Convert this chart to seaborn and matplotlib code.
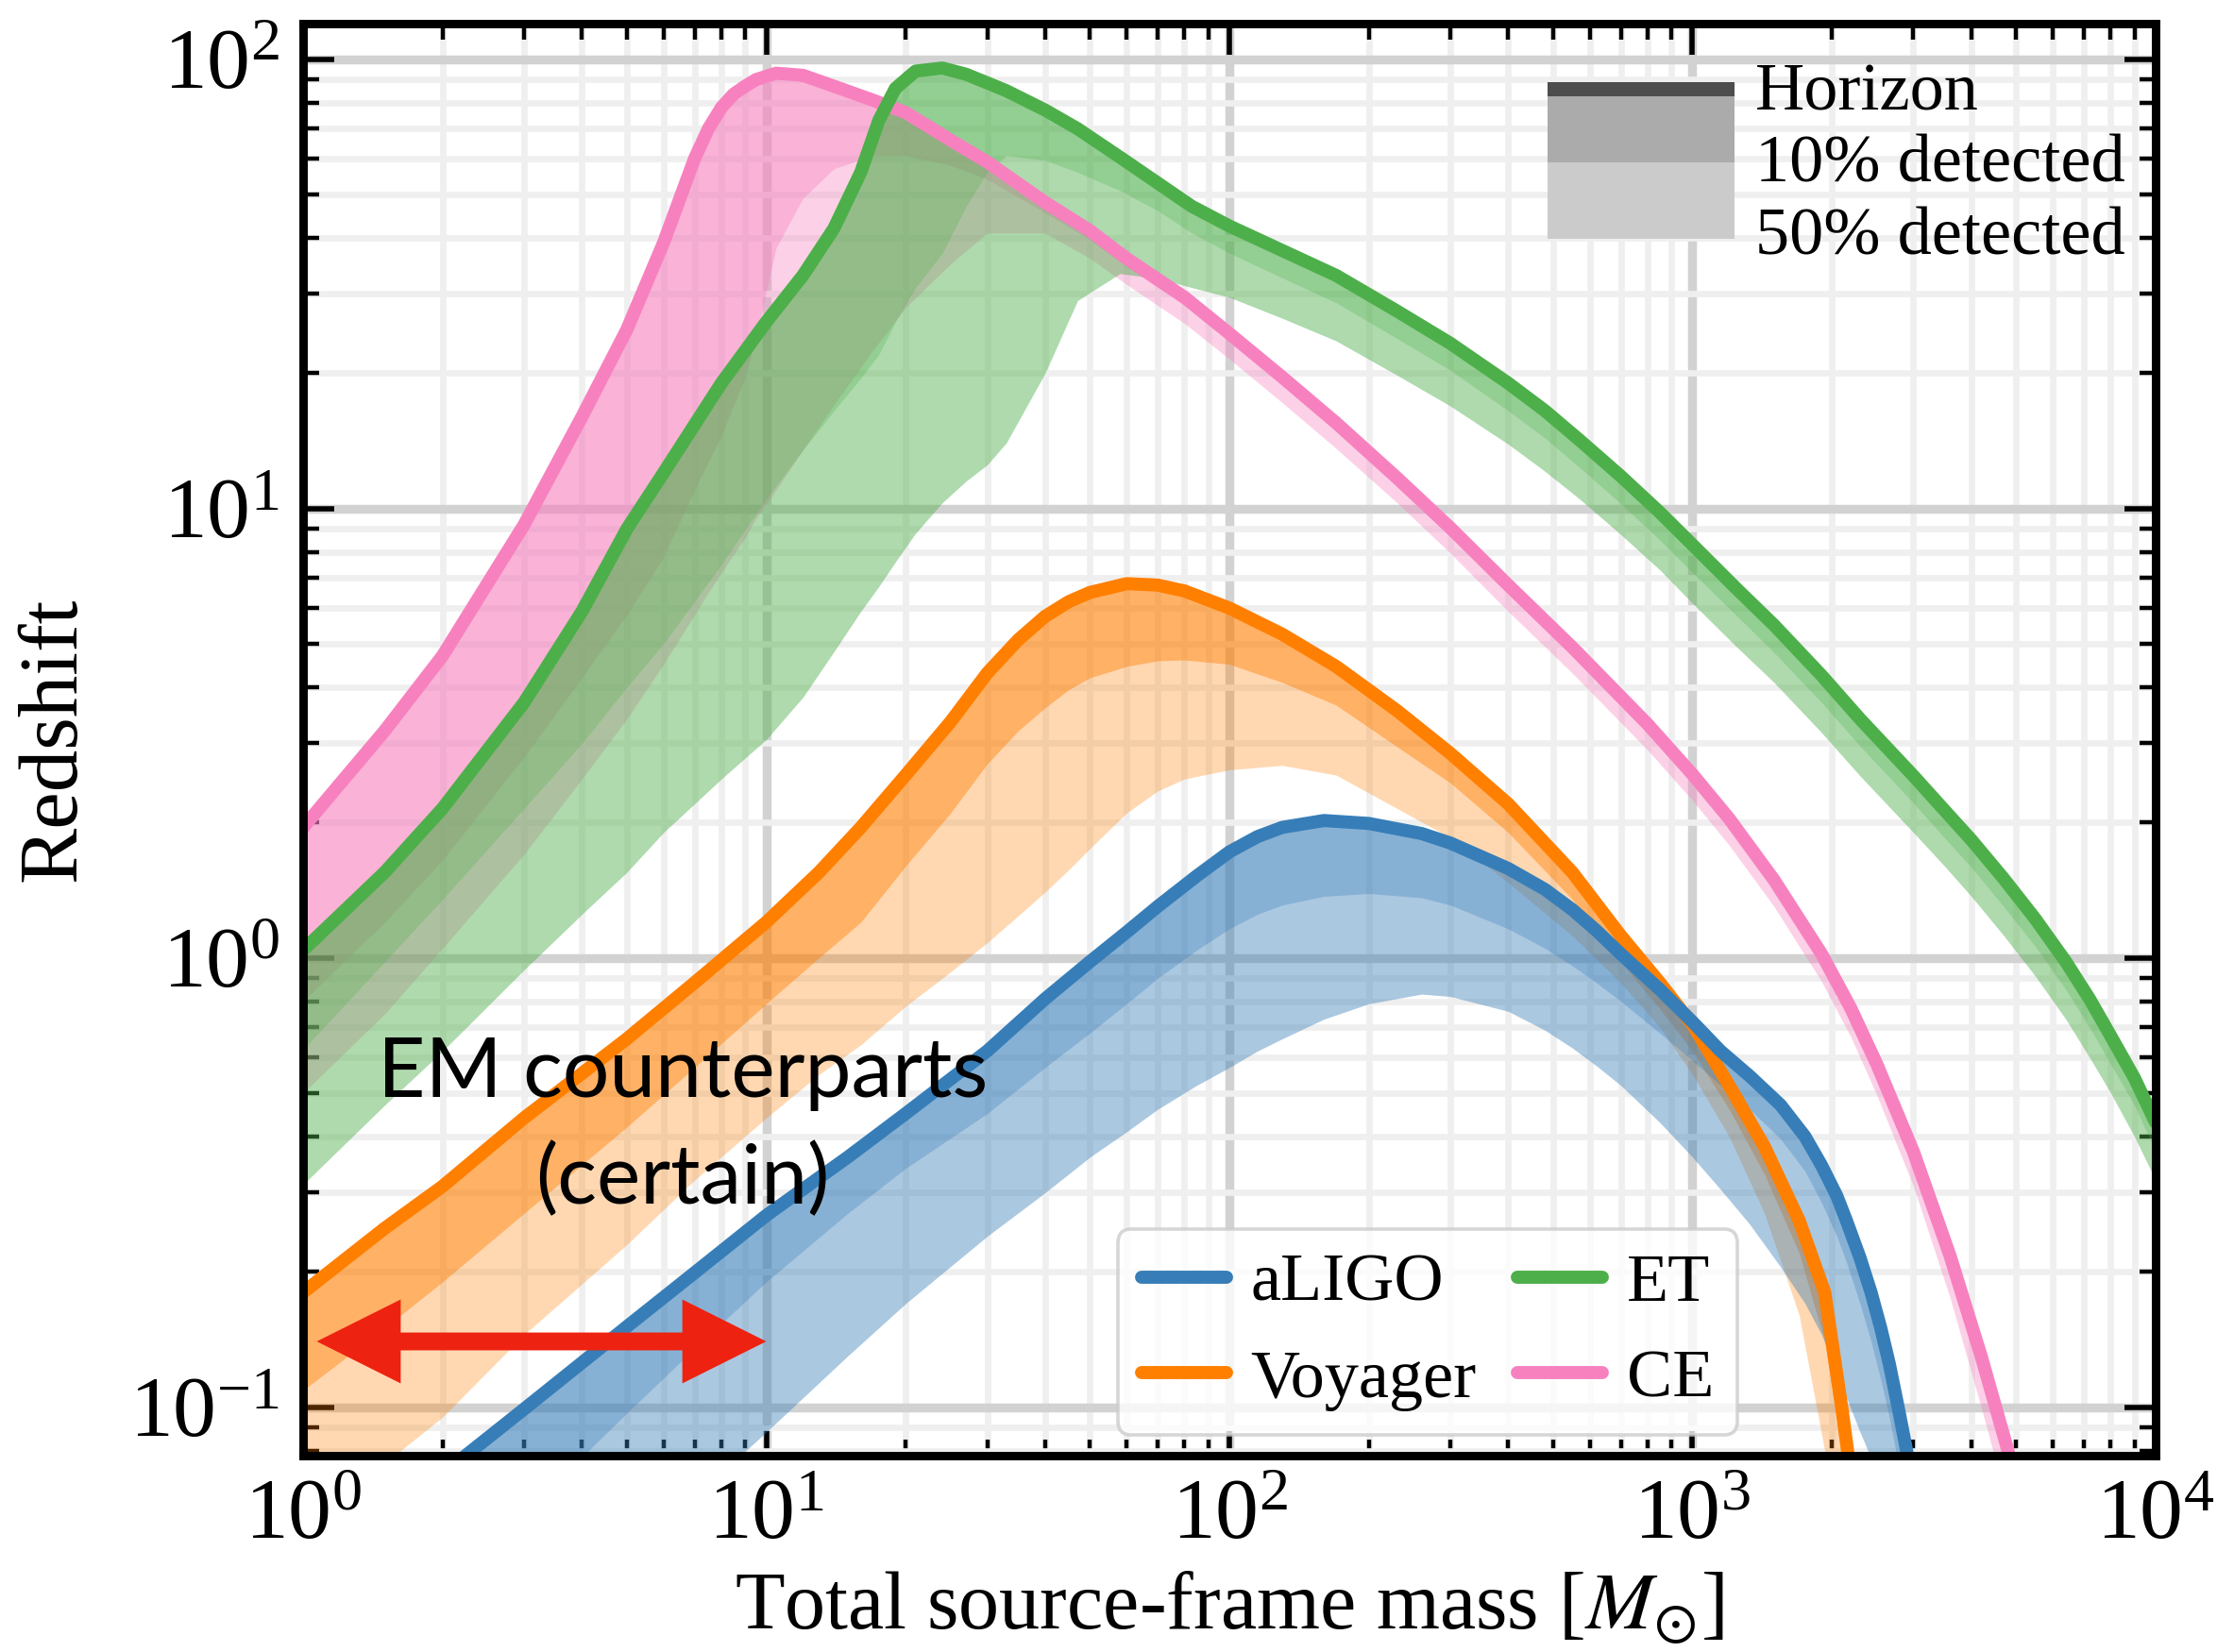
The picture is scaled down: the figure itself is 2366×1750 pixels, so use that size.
import pandas as pd
import seaborn as sns
import matplotlib.pyplot as plt
from matplotlib.lines import Line2D
from matplotlib.patches import Patch, Rectangle
from matplotlib.legend_handler import HandlerPatch

# total source-frame mass [Msun] and redshift
# for every detector: horizon, 10% detected and 50% detected
aligo_mass = [1, 2, 3, 5, 7, 10, 15, 20, 30, 40, 50, 60, 70, 85, 100, 115,
              130, 160, 200, 260, 300, 400, 480, 550, 620, 700, 850, 1000,
              1150, 1330, 1550, 1750, 1900, 2050, 2150, 2300, 2430, 2550,
              2660, 2780, 2900, 3100]
aligo_horizon = [0.041, 0.071, 0.099, 0.151, 0.199, 0.267, 0.36, 0.45, 0.62,
                 0.81, 0.98, 1.14, 1.30, 1.52, 1.72, 1.86, 1.95, 2.02, 1.99,
                 1.89, 1.80, 1.58, 1.42, 1.28, 1.15, 1.02, 0.85, 0.72, 0.62,
                 0.545, 0.47, 0.40, 0.345, 0.295, 0.26, 0.215, 0.18, 0.15,
                 0.125, 0.10, 0.08, 0.05]
aligo_z10 = [0.02, 0.04, 0.058, 0.097, 0.135, 0.19, 0.27, 0.34, 0.45, 0.57,
             0.68, 0.79, 0.9, 1.04, 1.16, 1.25, 1.31, 1.37, 1.39, 1.36, 1.31,
             1.16, 1.05, 0.96, 0.88, 0.80, 0.68, 0.59, 0.52, 0.46, 0.395,
             0.335, 0.285, 0.24, 0.21, 0.17, 0.14, 0.115, 0.095, 0.075, 0.06,
             0.04]
aligo_z50 = [0.01, 0.018, 0.027, 0.045, 0.063, 0.088, 0.13, 0.17, 0.24, 0.30,
             0.36, 0.41, 0.46, 0.52, 0.57, 0.62, 0.66, 0.73, 0.79, 0.83, 0.82,
             0.76, 0.69, 0.63, 0.575, 0.52, 0.43, 0.36, 0.305, 0.255, 0.205,
             0.17, 0.145, 0.12, 0.105, 0.088, 0.077, 0.065, 0.055, 0.045,
             0.035, 0.025]

voyager_mass = [1, 1.5, 2, 3, 5, 7, 10, 13, 16, 20, 25, 30, 35, 40, 45, 50,
                60, 70, 80, 100, 130, 170, 230, 300, 400, 550, 700, 850, 1000,
                1200, 1430, 1700, 1930, 2100, 2200, 2300]
voyager_horizon = [0.18, 0.25, 0.31, 0.44, 0.66, 0.88, 1.2, 1.55, 1.95, 2.55,
                   3.35, 4.3, 5.1, 5.75, 6.2, 6.5, 6.8, 6.75, 6.55, 6.0, 5.25,
                   4.45, 3.55, 2.85, 2.2, 1.55, 1.12, 0.88, 0.71, 0.52, 0.38,
                   0.26, 0.18, 0.10, 0.07, 0.04]
voyager_z10 = [0.109, 0.15, 0.19, 0.27, 0.42, 0.57, 0.79, 1.0, 1.2, 1.6, 2.1,
               2.7, 3.2, 3.6, 3.95, 4.2, 4.45, 4.58, 4.6, 4.5, 4.1, 3.65, 2.95,
               2.45, 1.9, 1.35, 0.98, 0.77, 0.62, 0.46, 0.33, 0.22, 0.14, 0.08,
               0.05, 0.03]
voyager_z50 = [0.052, 0.075, 0.095, 0.145, 0.23, 0.32, 0.44, 0.55, 0.64, 0.78,
               0.93, 1.08, 1.24, 1.4, 1.57, 1.75, 2.1, 2.35, 2.5, 2.62, 2.68,
               2.55, 2.15, 1.85, 1.47, 1.12, 0.88, 0.70, 0.55, 0.40, 0.27,
               0.16, 0.08, 0.045, 0.03, 0.02]

et_mass = [1, 1.5, 2, 3, 4, 5, 6, 8, 10, 12, 14, 16, 17.5, 19, 21, 24, 27, 30,
           33, 40, 47, 58, 70, 83, 100, 130, 170, 230, 300, 400, 480, 570,
           700, 850, 1000, 1250, 1500, 1900, 2300, 3000, 3500, 4000, 4700,
           5500, 6400, 7200, 8000, 9000, 10000]
et_horizon = [1.04, 1.55, 2.15, 3.7, 5.9, 9.0, 12.0, 19, 26, 33, 42, 56, 73,
              86, 94, 95.5, 92.5, 88.5, 85, 77, 70, 60.5, 53, 47, 42.5, 37.5,
              33, 27.5, 23.3, 19, 16.5, 14.2, 11.8, 9.8, 8.3, 6.6, 5.5, 4.25,
              3.4, 2.54, 2.13, 1.83, 1.5, 1.22, 0.98, 0.81, 0.67, 0.54, 0.43]
et_z10 = [0.625, 0.98, 1.35, 2.15, 3.0, 4.0, 5.0, 7.5, 10.5, 13.5, 16.5, 19.5,
          22, 26, 31, 37, 47, 56, 61, 59.5, 56, 51, 46, 41, 37, 32.6, 28.7,
          23.9, 20.3, 16.5, 14.35, 12.35, 10.25, 8.5, 7.2, 5.75, 4.78, 3.7,
          2.96, 2.21, 1.85, 1.59, 1.3, 1.06, 0.85, 0.70, 0.58, 0.47, 0.37]
et_z50 = [0.313, 0.47, 0.62, 0.94, 1.25, 1.55, 1.9, 2.5, 3.06, 3.8, 4.8, 5.9,
          6.7, 7.6, 8.8, 10.3, 11.5, 12.5, 14, 20, 29, 33.3, 32.5, 31, 29.5,
          26.5, 23.6, 19.8, 16.9, 13.9, 12.1, 10.5, 8.75, 7.3, 6.15, 4.9, 4.1,
          3.17, 2.54, 1.9, 1.6, 1.37, 1.12, 0.91, 0.73, 0.6, 0.5, 0.4, 0.32]

ce_mass = [1, 1.5, 2, 3, 4, 5, 6, 7, 7.5, 8, 8.5, 9, 9.5, 10.5, 12, 14, 17, 20,
           25, 30, 40, 50, 60, 80, 100, 130, 170, 230, 300, 400, 550, 800,
           1000, 1200, 1500, 1900, 2200, 2500, 3000, 3600, 4200, 4800, 5200]
ce_horizon = [1.95, 3.2, 4.7, 9.2, 16, 25, 39, 60, 70, 78, 83.5, 87, 90, 93,
              92, 87, 81, 76, 66, 59, 48, 41.5, 36, 29.5, 24.5, 19.6, 15.5,
              11.7, 9.05, 6.75, 4.91, 3.31, 2.56, 2.04, 1.49, 1.02, 0.77, 0.58,
              0.37, 0.217, 0.13, 0.08, 0.058]
ce_z10 = [0.8, 1.2, 1.65, 2.8, 4.2, 5.8, 7.8, 11, 12.7, 14.5, 17, 19.5, 24,
          38, 49, 57, 61, 61, 58, 54, 45.5, 39.6, 34.5, 28.3, 23.6, 18.9,
          15.0, 11.3, 8.75, 6.53, 4.75, 3.2, 2.48, 1.97, 1.44, 0.985, 0.745,
          0.56, 0.355, 0.208, 0.124, 0.076, 0.055]
ce_z50 = [0.5, 0.75, 1.05, 1.7, 2.5, 3.4, 4.5, 5.8, 6.5, 7.2, 7.9, 8.6, 9.5,
          11, 13.5, 17, 22.5, 28, 35, 41, 41, 36, 31.5, 25.8, 21.5, 17.2,
          13.6, 10.3, 7.95, 5.9, 4.3, 2.9, 2.24, 1.78, 1.3, 0.885, 0.665,
          0.495, 0.31, 0.175, 0.1, 0.06, 0.042]

detectors = ['aLIGO', 'Voyager', 'ET', 'CE']
colors = {'aLIGO': '#377eb8', 'Voyager': '#ff7f00', 'ET': '#4daf4a',
          'CE': '#f781bf'}
# opacity of the 50% band and of the 10% band laid over it
alpha50 = {'aLIGO': 0.42, 'Voyager': 0.3, 'ET': 0.45, 'CE': 0.36}
alpha10 = {'aLIGO': 0.31, 'Voyager': 0.43, 'ET': 0.27, 'CE': 0.375}

frames = []
for name, m, zh, z10, z50 in [
        ('aLIGO', aligo_mass, aligo_horizon, aligo_z10, aligo_z50),
        ('Voyager', voyager_mass, voyager_horizon, voyager_z10, voyager_z50),
        ('ET', et_mass, et_horizon, et_z10, et_z50),
        ('CE', ce_mass, ce_horizon, ce_z10, ce_z50)]:
    frames.append(pd.DataFrame({'detector': name, 'mass': m, 'horizon': zh,
                                'z10': z10, 'z50': z50}))
data = pd.concat(frames, ignore_index=True)

sns.set_style('ticks')
plt.rcParams['font.family'] = ['Liberation Serif', 'DejaVu Serif']
plt.rcParams['mathtext.fontset'] = 'stix'
plt.rcParams['text.color'] = 'black'
plt.rcParams['axes.labelcolor'] = 'black'
plt.rcParams['xtick.color'] = 'black'
plt.rcParams['ytick.color'] = 'black'

fig = plt.figure(figsize=(11.83, 8.75), dpi=200)
ax = fig.add_axes([0.1357, 0.1189, 0.8292, 0.8669])

# drawn back to front so aLIGO ends up on top
for name in ['CE', 'ET', 'Voyager', 'aLIGO']:
    d = data[data['detector'] == name]
    c = colors[name]
    ax.fill_between(d['mass'], d['z50'], d['horizon'], color=c,
                    alpha=alpha50[name], lw=0)
    ax.fill_between(d['mass'], d['z10'], d['horizon'], color=c,
                    alpha=alpha10[name], lw=0)
    sns.lineplot(data=d, x='mass', y='horizon', color=c, lw=5.0,
                 estimator=None, legend=False, ax=ax)

ax.set_xscale('log')
ax.set_yscale('log')
ax.set_xlim(1, 1e4)
ax.set_ylim(0.078, 120)

ax.set_axisbelow(True)
ax.grid(which='major', color='#d2d2d2', lw=3.4)
ax.grid(which='minor', color='#efefef', lw=2.4)
ax.tick_params(which='both', direction='in', top=True, right=True)
ax.tick_params(which='major', length=12, width=2.0, labelsize=33, pad=9)
ax.tick_params(which='minor', length=6, width=1.6)
for s in ax.spines.values():
    s.set_linewidth(3.2)
    s.set_color('black')

ax.set_xlabel(r'Total source-frame mass [$M_{\odot}$]', fontsize=31,
              labelpad=5)
ax.set_ylabel('Redshift', fontsize=32, labelpad=14)

ax.text(6.6, 0.42, 'EM counterparts\n(certain)', family='Lato', fontsize=31.5,
        ha='center', va='center', linespacing=1.5)

red = '#ee2211'
ax.annotate('', xy=(10, 0.14), xytext=(1.07, 0.14),
            arrowprops=dict(arrowstyle='<|-|>,head_length=1.6,head_width=0.8',
                            mutation_scale=20, lw=0, color=red,
                            shrinkA=0, shrinkB=0))
ax.annotate('', xy=(7.0, 0.14), xytext=(1.4, 0.14),
            arrowprops=dict(arrowstyle='-', lw=6.8, color=red,
                            shrinkA=0, shrinkB=0))


# legend for the bands: blocks stacked on top of each other
def band_block(lo, span):
    def make(legend, orig_handle, xdescent, ydescent, width, height, fontsize):
        pitch = 1.12 * fontsize
        yc = height / 2 - ydescent
        return Rectangle((-xdescent, yc + lo * pitch), width, span * pitch)
    return make


band_handles = [Patch(fc='#4d4d4d', lw=0), Patch(fc='#ababab', lw=0),
                Patch(fc='#cbcbcb', lw=0)]
band_legend = ax.legend(
    band_handles, ['Horizon', '10% detected', '50% detected'],
    loc='upper right', frameon=False, fontsize=26, handlelength=2.75,
    handleheight=1.1, handletextpad=0.3, labelspacing=0.03,
    borderaxespad=0.15, borderpad=0.3,
    handler_map={band_handles[0]: HandlerPatch(patch_func=band_block(-0.18, 0.24)),
                 band_handles[1]: HandlerPatch(patch_func=band_block(-0.1, 0.92)),
                 band_handles[2]: HandlerPatch(patch_func=band_block(-0.1, 1.0))})
ax.add_artist(band_legend)

det_handles = [Line2D([], [], color=colors[n], lw=5.0) for n in detectors]
det_legend = ax.legend(det_handles, detectors, ncol=2, loc='lower center',
                       bbox_to_anchor=(0.607, 0.0145), fontsize=26,
                       handlelength=1.25, handletextpad=0.35, columnspacing=0.6,
                       borderpad=0.35, labelspacing=0.5, borderaxespad=0,
                       fancybox=True, framealpha=0.8, edgecolor='#cccccc')
det_legend.get_frame().set_linewidth(1.3)

fig.savefig('out.png', dpi=200)
